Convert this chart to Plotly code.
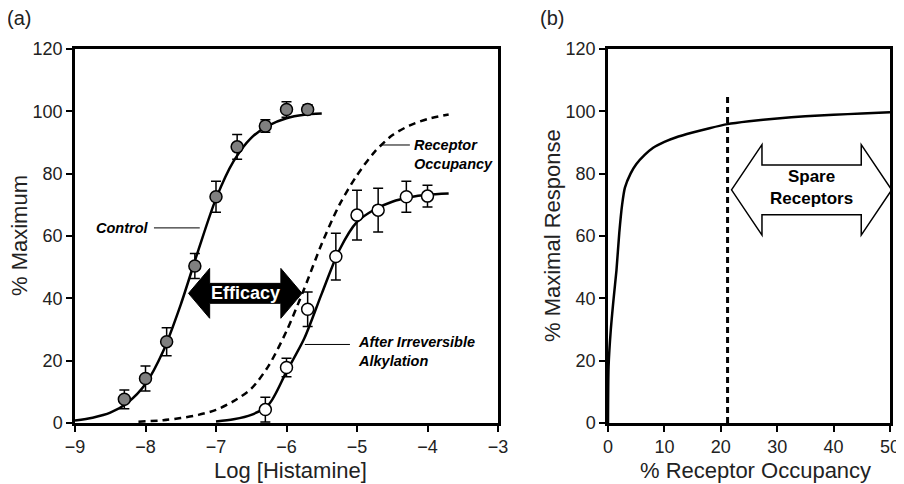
import plotly.graph_objects as go

# ---- panel (a) data ----
ctrl_x = [-8.3, -8.0, -7.7, -7.3, -7.0, -6.7, -6.3, -6.0, -5.7]
ctrl_y = [7.6, 14.3, 26.1, 50.4, 72.6, 88.6, 95.3, 100.6, 100.6]
ctrl_err = [3.0, 4.0, 4.5, 4.0, 5.0, 4.0, 2.0, 2.5, 1.5]

alk_x = [-6.3, -6.0, -5.7, -5.3, -5.0, -4.7, -4.3, -4.0]
alk_y = [4.3, 17.8, 36.5, 53.4, 66.7, 68.3, 72.6, 72.8]
alk_err = [4.0, 3.0, 5.5, 7.5, 8.0, 7.0, 5.0, 3.5]

# fitted curves
ctrl_fit_x = [-9.0, -8.75, -8.5, -8.25, -8.0, -7.75, -7.5, -7.25, -7.0, -6.75, -6.5, -6.25, -6.0, -5.75, -5.5]
ctrl_fit_y = [0.8, 1.7, 3.3, 6.6, 12.5, 23.0, 38.0, 55.5, 72.0, 84.0, 91.5, 95.5, 97.8, 98.9, 99.3]

alk_fit_x = [-7.0, -6.75, -6.5, -6.25, -6.0, -5.75, -5.5, -5.25, -5.0, -4.75, -4.5, -4.25, -4.0, -3.7]
alk_fit_y = [0.5, 1.2, 2.6, 6.0, 16.5, 27.0, 41.5, 55.5, 64.5, 68.5, 71.0, 72.4, 73.2, 73.6]

occ_x = [-8.1, -7.75, -7.5, -7.25, -7.0, -6.75, -6.5, -6.25, -6.0, -5.75, -5.5, -5.25, -5.0, -4.75, -4.5, -4.25, -4.0, -3.7]
occ_y = [0.4, 0.9, 1.6, 2.6, 4.2, 7.0, 11.0, 18.5, 29.5, 43.0, 57.5, 70.0, 79.5, 87.0, 92.3, 95.5, 97.5, 99.0]

# ---- panel (b) data ----
resp_x = [0, 0.1, 0.5, 1.0, 1.5, 2.0, 2.5, 3.0, 4.0, 5.0, 6.5, 8.0, 10, 12, 15, 18, 21.2, 25, 30, 35, 40, 45, 50]
resp_y = [0, 18, 30, 40, 49, 61, 70, 75.5, 80.0, 83.0, 86.0, 88.3, 90.2, 91.6, 93.2, 94.6, 95.9, 96.8, 97.7, 98.4, 98.9, 99.3, 99.7]
spare_x = 21.2

# arrows: (x_left, x_right, y, head length, half body, half head)
eff_arrow = (-7.39, -5.78, 41.6, 0.30, 3.2, 8.0)
spare_arrow = (21.9, 50.3, 74.8, 5.4, 8.0, 14.5)

FONT = "Liberation Sans, Arial, sans-serif"

# page body has an 8px margin, so the figure sits at (8, 8)
W, H = 896, 476


def px(x):
    return (x - 8) / W


def py(y):
    return 1 - (y - 8) / H


fig = go.Figure()

fig.add_trace(go.Scatter(x=occ_x, y=occ_y, mode="lines", xaxis="x", yaxis="y",
                         line=dict(color="black", width=2.5, dash="7px,5px", shape="spline", smoothing=0.8)))
fig.add_trace(go.Scatter(x=ctrl_fit_x, y=ctrl_fit_y, mode="lines", xaxis="x", yaxis="y",
                         line=dict(color="black", width=2.5, shape="spline", smoothing=0.8)))
fig.add_trace(go.Scatter(x=alk_fit_x, y=alk_fit_y, mode="lines", xaxis="x", yaxis="y",
                         line=dict(color="black", width=2.5, shape="spline", smoothing=0.8)))
fig.add_trace(go.Scatter(x=ctrl_x, y=ctrl_y, mode="markers", xaxis="x", yaxis="y",
                         error_y=dict(type="data", array=ctrl_err, color="black", thickness=1.5, width=5),
                         marker=dict(size=12, color="#7f7f7f", line=dict(color="black", width=1.5))))
fig.add_trace(go.Scatter(x=alk_x, y=alk_y, mode="markers", xaxis="x", yaxis="y",
                         error_y=dict(type="data", array=alk_err, color="black", thickness=1.5, width=5),
                         marker=dict(size=12, color="white", line=dict(color="black", width=1.5))))

fig.add_trace(go.Scatter(x=resp_x, y=resp_y, mode="lines", xaxis="x2", yaxis="y2",
                         line=dict(color="black", width=2.5, shape="spline", smoothing=0.6)))


def arrow_path(a):
    x0, x1, yc, hl, hb, hh = a
    pts = [(x0, yc), (x0 + hl, yc + hh), (x0 + hl, yc + hb), (x1 - hl, yc + hb), (x1 - hl, yc + hh),
           (x1, yc), (x1 - hl, yc - hh), (x1 - hl, yc - hb), (x0 + hl, yc - hb), (x0 + hl, yc - hh)]
    return "M " + " L ".join(f"{a},{b}" for a, b in pts) + " Z"


fig.add_shape(type="path", path=arrow_path(eff_arrow), xref="x", yref="y",
              fillcolor="black", line=dict(color="black", width=1))
fig.add_shape(type="path", path=arrow_path(spare_arrow), xref="x2", yref="y2",
              fillcolor="white", line=dict(color="black", width=1.5))
fig.add_shape(type="line", x0=spare_x, x1=spare_x, y0=0, y1=105, xref="x2", yref="y2",
              line=dict(color="black", width=3, dash="6px,4px"))

# leader lines for the labels
fig.add_shape(type="line", x0=-7.88, x1=-7.23, y0=62.6, y1=62.6, xref="x", yref="y", line=dict(color="black", width=1))
fig.add_shape(type="line", x0=-4.65, x1=-4.25, y0=89.2, y1=89.2, xref="x", yref="y", line=dict(color="black", width=1))
fig.add_shape(type="line", x0=-5.74, x1=-5.10, y0=25.2, y1=25.2, xref="x", yref="y", line=dict(color="black", width=1))

lab = dict(family=FONT, size=14.5, color="black")
fig.add_annotation(x=-7.92, y=62.6, xref="x", yref="y", text="<b><i>Control</i></b>",
                   showarrow=False, xanchor="right", font=lab)
fig.add_annotation(x=-4.22, y=86.0, xref="x", yref="y", text="<b><i>Receptor<br>Occupancy</i></b>",
                   showarrow=False, xanchor="left", align="left", font=lab)
fig.add_annotation(x=-5.02, y=23.0, xref="x", yref="y", text="<b><i>After Irreversible<br>Alkylation</i></b>",
                   showarrow=False, xanchor="left", align="left", font=lab)
fig.add_annotation(x=-6.58, y=41.6, xref="x", yref="y", text="<b>Efficacy</b>",
                   showarrow=False, font=dict(family=FONT, size=18, color="white"))
fig.add_annotation(x=36.1, y=75.5, xref="x2", yref="y2", text="<b>Spare<br>Receptors</b>",
                   showarrow=False, font=dict(family=FONT, size=17, color="black"))

title_font = dict(family=FONT, size=22, color="#222")
cen = dict(xref="paper", yref="paper", showarrow=False, xanchor="center", yanchor="middle")
fig.add_annotation(x=px(19), y=py(18), text="(a)", font=dict(family=FONT, size=20, color="#222"), **cen)
fig.add_annotation(x=px(552), y=py(18), text="(b)", font=dict(family=FONT, size=20, color="#222"), **cen)
fig.add_annotation(x=px(290), y=py(470), text="Log [Histamine]", font=title_font, **cen)
fig.add_annotation(x=px(755), y=py(470), text="% Receptor Occupancy", font=title_font, **cen)
fig.add_annotation(x=px(19), y=py(236), text="% Maximum", textangle=-90, font=title_font, **cen)
fig.add_annotation(x=px(552), y=py(236), text="% Maximal Response", textangle=-90, font=title_font, **cen)

ax = dict(showline=True, mirror=True, linecolor="black", linewidth=2.5, ticks="outside",
          ticklen=6, tickwidth=2, tickcolor="black", showgrid=False, zeroline=False,
          automargin=False, ticklabeloverflow="allow",
          tickfont=dict(family=FONT, size=18, color="#222"))

fig.update_layout(
    width=W, height=H, margin=dict(l=0, r=0, t=0, b=0),
    paper_bgcolor="white", plot_bgcolor="white", showlegend=False,
    xaxis=dict(ax, domain=[px(75), px(498)], range=[-9, -3], dtick=1),
    yaxis=dict(ax, domain=[py(423), py(49)], range=[0, 120], dtick=20),
    xaxis2=dict(ax, domain=[px(608), px(890)], range=[0, 50], dtick=10, anchor="y2"),
    yaxis2=dict(ax, domain=[py(423), py(49)], range=[0, 120], dtick=20, anchor="x2"),
)

fig.write_html("out.html")
